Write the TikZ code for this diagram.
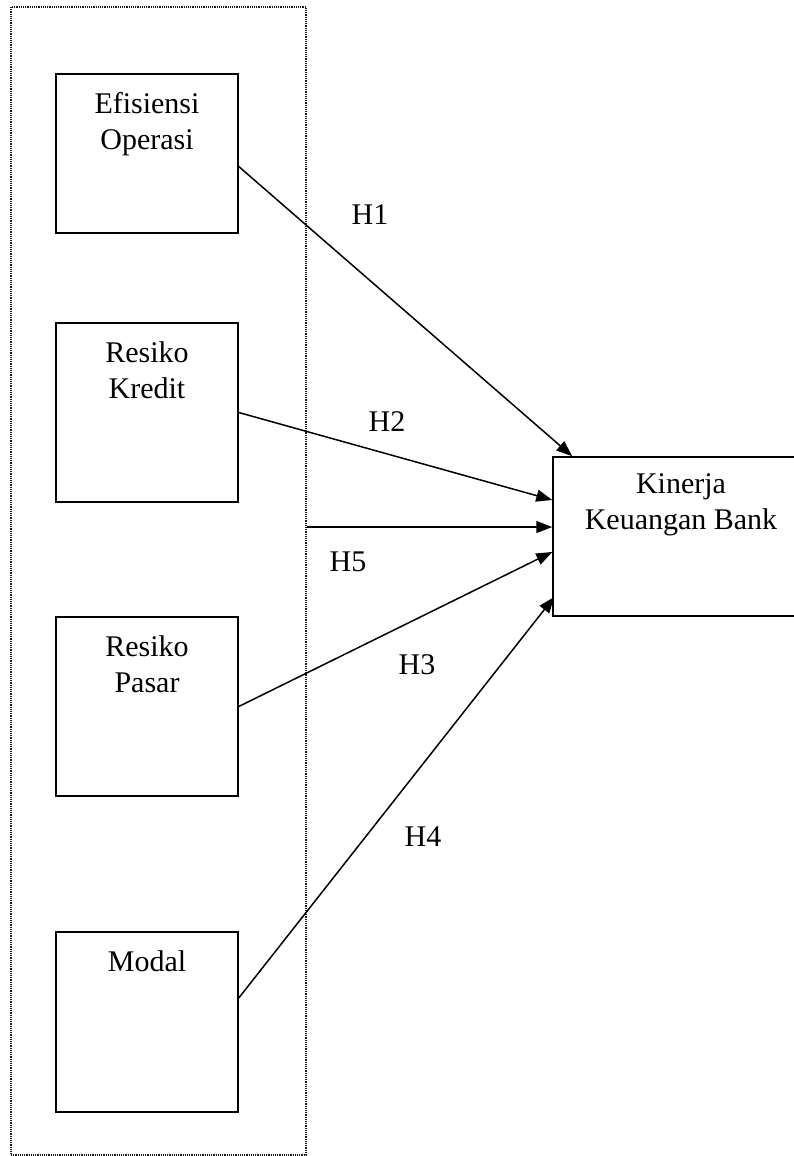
\documentclass[tikz,border=0pt]{standalone}
\usepackage{fontspec}
\setmainfont{Liberation Serif}
\usetikzlibrary{positioning,arrows.meta}

\tikzset{
  varbox/.style={draw,line width=1.5pt,minimum width=182pt,minimum height=179pt,inner sep=0pt},
  varname/.style={align=center,font=\fontsize{30}{36}\selectfont,inner sep=0pt,anchor=north},
  hyp/.style={font=\fontsize{30}{36}\selectfont,inner sep=0pt},
  link/.style={-{Triangle[length=16pt,width=12pt]},line width=1.5pt}
}

\begin{document}
\begin{tikzpicture}[x=1pt,y=-1pt]
        \useasboundingbox (0,0) rectangle (794,1156);
        \clip (0,0) rectangle (794,1156);

        % Group of independent variables
        \node[draw,black!90,line width=1.3pt,dash pattern=on 1.2pt off 1pt,minimum width=295pt,minimum height=1148pt,inner sep=0pt] (group) at (158.5,581) {};

        % Variable boxes
        \node[varbox,minimum height=159pt] (eff) at (147,153.5) {};
        \node[varname,below=19pt of eff.north] (effname) {Efisiensi\\Operasi};

        \node[varbox] (kredit) at (147,412.5) {};
        \node[varname,below=19pt of kredit.north] (kreditname) {Resiko\\Kredit};

        \node[varbox] (pasar) at (147,706.5) {};
        \node[varname,below=19pt of pasar.north] (pasarname) {Resiko\\Pasar};

        \node[varbox,minimum height=180pt] (modal) at (147,1022) {};
        \node[varname,below=19pt of modal.north] (modalname) {Modal};

        % Dependent variable
        \node[varbox,minimum width=256pt,minimum height=159pt] (kin) at (681,536.5) {};
        \node[varname,below=17pt of kin.north] (kinname) {Kinerja\\Keuangan Bank};

        % Hypotheses
        \coordinate (h5in) at ([yshift=9.5pt]kin.west);
        \draw[link] ([yshift=-13pt]eff.east) -- ([xshift=20pt]kin.north west);
        \draw[link] (kredit.east) -- ([yshift=36.5pt]kin.west);
        \draw[link] (group.east |- h5in) -- (h5in);
        \draw[link] (pasar.east) -- ([yshift=-15.5pt]kin.west);
        \draw[link] ([yshift=24pt]modal.east) -- ([xshift=2pt,yshift=-60.5pt]kin.west);

        % Labels
        \node[hyp] (h1) at (370,215) {H1};
        \node[hyp] (h2) at (387,422) {H2};
        \node[hyp] (h5) at (348,562) {H5};
        \node[hyp] (h3) at (417,665) {H3};
        \node[hyp] (h4) at (423,837) {H4};
      \end{tikzpicture}
\end{document}
